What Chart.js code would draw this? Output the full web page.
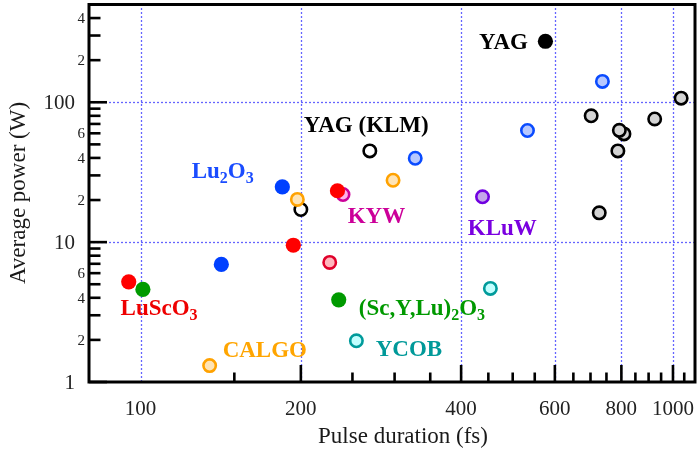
<!DOCTYPE html>
<html>
<head>
<meta charset="utf-8">
<script src="https://cdn.jsdelivr.net/npm/chart.js@4.4.1/dist/chart.umd.min.js"></script>
<style>
  html, body { margin: 0; padding: 0; background: #fff; }
  canvas { display: block; }
</style>
</head>
<body>
<canvas id="chart" width="697" height="455"></canvas>
<script>
// Pulse duration (fs) and average power (W) for each gain material / set-up
const yagDiskDur = [1036, 702, 924, 809, 793, 788, 727];
const yagDiskPow = [107, 80, 76, 59.4, 63, 44.9, 16.2];
const yagKlmDur = [269.5, 200];
const yagKlmPow = [44.9, 17.1];
const yagDur = [576];
const yagPow = [273];
const lu2o3KlmDur = [737, 533, 328];
const lu2o3KlmPow = [141, 62.8, 39.8];
const lu2o3Dur = [184.6, 141.8];
const lu2o3Pow = [24.8, 6.93];
const luscoDur = [95, 193.6, 234.3];
const luscoPow = [5.2, 9.5, 23.3];
const luscoKlmDur = [226.6];
const luscoKlmPow = [7.16];
const scyluDur = [101, 235.6];
const scyluPow = [4.59, 3.87];
const calgoDur = [197, 298, 134.8];
const calgoPow = [20.2, 27.7, 1.31];
const kywDur = [240];
const kywPow = [21.9];
const kluwDur = [438.8];
const kluwPow = [21.1];
const ycobDur = [254.3, 454];
const ycobPow = [1.97, 4.67];

// Axis ticks and labels
const xGridValues = [100, 200, 400, 600, 800, 1000];
const xMajorTicks = [200, 400, 600, 800, 1000];
const xMinorTicks = [150, 250, 300, 350, 450, 500, 550, 650, 700, 750, 850, 900, 950, 1050];
const xTickLabels = ['100', '200', '400', '600', '800', '1000'];
const yGridValues = [10, 100];
const yMajorTicks = [1, 10, 100];
const yMinorTicks = [2, 3, 4, 5, 6, 7, 8, 9, 20, 30, 40, 50, 60, 70, 80, 90, 200, 300, 400];
const yMajorLabels = ['1', '10', '100'];
const yMinorLabelValues = [2, 4, 6, 20, 40, 60, 200, 400];
const yMinorLabels = ['2', '4', '6', '2', '4', '6', '2', '4'];

// Material names, placed at (duration, power); "_" marks a subscript digit
const materialLabels = [
  { text: 'YAG', x: 432, y: 239, color: '#000000' },
  { text: 'YAG (KLM)', x: 202.5, y: 61, color: '#000000' },
  { text: 'Lu_2O_3', x: 124.7, y: 28.7, color: '#1a4cff' },
  { text: 'KYW', x: 244.9, y: 13.8, color: '#cc0099' },
  { text: 'KLuW', x: 411.8, y: 11.2, color: '#7a00e0' },
  { text: 'LuScO_3', x: 91.7, y: 3.01, color: '#ee0000' },
  { text: '(Sc,Y,Lu)_2O_3', x: 256.9, y: 2.99, color: '#009900' },
  { text: 'CALGO', x: 142.6, y: 1.52, color: '#ffa500' },
  { text: 'YCOB', x: 276.5, y: 1.53, color: '#009999' }
];

const SERIF = '"Liberation Serif", "Times New Roman", serif';

const pts = (d, p) => d.map((x, i) => ({ x, y: p[i] }));
const openMarker = (border, fill) => ({
  pointRadius: 6.2, pointHoverRadius: 6.2, pointBorderWidth: 2.6,
  pointBorderColor: border, pointBackgroundColor: fill,
  borderColor: border, backgroundColor: fill
});
const solidMarker = (c) => ({
  pointRadius: 7.6, pointHoverRadius: 7.6, pointBorderWidth: 0,
  pointBorderColor: c, pointBackgroundColor: c,
  borderColor: c, backgroundColor: c
});

// Dotted grid behind the markers
const dottedGrid = {
  id: 'dottedGrid',
  beforeDatasetsDraw(chart) {
    const { ctx, chartArea: a, scales: { x, y } } = chart;
    ctx.save();
    ctx.strokeStyle = '#6464ff';
    ctx.lineWidth = 1.3;
    ctx.setLineDash([2, 2]);
    xGridValues.forEach(v => {
      const px = Math.round(x.getPixelForValue(v)) + 0.5;
      ctx.beginPath(); ctx.moveTo(px, a.bottom); ctx.lineTo(px, a.top); ctx.stroke();
    });
    yGridValues.forEach(v => {
      const py = Math.round(y.getPixelForValue(v)) + 0.5;
      ctx.beginPath(); ctx.moveTo(a.left, py); ctx.lineTo(a.right, py); ctx.stroke();
    });
    ctx.restore();
  }
};

// Axes frame, inward tick marks, tick labels, titles and material names
const axesDecor = {
  id: 'axesDecor',
  afterDatasetsDraw(chart) {
    const { ctx, chartArea: a, scales: { x, y } } = chart;
    ctx.save();
    ctx.strokeStyle = '#000';
    ctx.lineCap = 'butt';

    // tick marks
    ctx.lineWidth = 2.6;
    const yTick = (v, len) => {
      const py = y.getPixelForValue(v);
      ctx.beginPath(); ctx.moveTo(a.left, py); ctx.lineTo(a.left + len, py); ctx.stroke();
    };
    const xTick = (v, len) => {
      const px = x.getPixelForValue(v);
      ctx.beginPath(); ctx.moveTo(px, a.bottom); ctx.lineTo(px, a.bottom - len); ctx.stroke();
    };
    yMajorTicks.forEach(v => yTick(v, 18));
    yMinorTicks.forEach(v => yTick(v, 11.5));
    xMajorTicks.forEach(v => xTick(v, 17));
    xMinorTicks.forEach(v => xTick(v, 9.5));

    // frame
    ctx.lineWidth = 3;
    ctx.strokeRect(a.left, a.top, a.right - a.left, a.bottom - a.top);

    // tick labels
    ctx.fillStyle = '#222';
    ctx.textBaseline = 'middle';
    ctx.textAlign = 'right';
    ctx.font = '21px ' + SERIF;
    yMajorTicks.forEach((v, i) => ctx.fillText(yMajorLabels[i], a.left - 14, y.getPixelForValue(v) + 1));
    ctx.font = '15px ' + SERIF;
    yMinorLabelValues.forEach((v, i) => ctx.fillText(yMinorLabels[i], a.left - 4, y.getPixelForValue(v) + 1));
    ctx.textAlign = 'center';
    ctx.font = '21px ' + SERIF;
    xGridValues.forEach((v, i) => ctx.fillText(xTickLabels[i], x.getPixelForValue(v), a.bottom + 27));

    // axis titles
    ctx.fillStyle = '#1a1a1a';
    ctx.font = '23px ' + SERIF;
    ctx.fillText('Pulse duration (fs)', 403, a.bottom + 55);
    ctx.save();
    ctx.translate(19, 193);
    ctx.rotate(-Math.PI / 2);
    ctx.fillText('Average power (W)', 0, 0);
    ctx.restore();

    // material names
    ctx.textAlign = 'left';
    ctx.textBaseline = 'alphabetic';
    materialLabels.forEach(l => {
      let px = x.getPixelForValue(l.x);
      const py = y.getPixelForValue(l.y);
      ctx.fillStyle = l.color;
      const parts = l.text.split(/(_\d)/).filter(s => s.length);
      parts.forEach(p => {
        const sub = p[0] === '_';
        const t = sub ? p.slice(1) : p;
        ctx.font = 'bold ' + (sub ? 16 : 23) + 'px ' + SERIF;
        ctx.fillText(t, px, py + (sub ? 5 : 0));
        px += ctx.measureText(t).width;
      });
    });
    ctx.restore();
  }
};

new Chart(document.getElementById('chart'), {
  type: 'scatter',
  data: {
    datasets: [
      { label: '(Sc,Y,Lu)2O3', data: pts(scyluDur, scyluPow), ...solidMarker('#009a00') },
      { label: 'LuScO3', data: pts(luscoDur, luscoPow), ...solidMarker('#ff0000') },
      { label: 'CALGO', data: pts(calgoDur, calgoPow), ...openMarker('#ffa200', '#ffe4b5') },
      { label: 'LuScO3 (KLM)', data: pts(luscoKlmDur, luscoKlmPow), ...openMarker('#e0002a', '#ffb6bd') },
      { label: 'KYW', data: pts(kywDur, kywPow), ...openMarker('#cc0099', '#ffb0ea') },
      { label: 'KLuW', data: pts(kluwDur, kluwPow), ...openMarker('#7000e0', '#c4a6ea') },
      { label: 'YCOB', data: pts(ycobDur, ycobPow), ...openMarker('#009b9b', '#c2ffff') },
      { label: 'Lu2O3', data: pts(lu2o3Dur, lu2o3Pow), ...solidMarker('#0040ff') },
      { label: 'Lu2O3 (KLM)', data: pts(lu2o3KlmDur, lu2o3KlmPow), ...openMarker('#0a4bff', '#b7c8ff') },
      { label: 'YAG', data: pts(yagDur, yagPow), ...solidMarker('#000000') },
      { label: 'YAG (KLM)', data: pts(yagKlmDur, yagKlmPow), ...openMarker('#000000', '#ffffff') },
      { label: 'YAG thin disk', data: pts(yagDiskDur, yagDiskPow), ...openMarker('#000000', '#d4d4d4') }
    ]
  },
  options: {
    responsive: false,
    devicePixelRatio: 1,
    animation: false,
    events: [],
    layout: { autoPadding: false, padding: { left: 89, top: 4.5, right: 2, bottom: 73 } },
    plugins: { legend: { display: false }, tooltip: { enabled: false } },
    scales: {
      x: {
        type: 'logarithmic',
        min: 80, max: 1100,
        ticks: { display: false },
        grid: { display: false, drawTicks: false },
        border: { display: false }
      },
      y: {
        type: 'logarithmic',
        min: 1, max: 500,
        ticks: { display: false },
        grid: { display: false, drawTicks: false },
        border: { display: false }
      }
    }
  },
  plugins: [dottedGrid, axesDecor]
});
</script>
</body>
</html>
